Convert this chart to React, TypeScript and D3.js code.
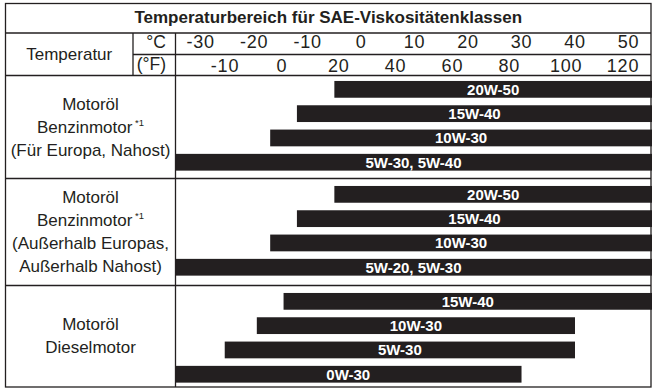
import React from "react";
import * as d3 from "d3";

// ---- Data ----
const TITLE = "Temperaturbereich für SAE-Viskositätenklassen";
const CELSIUS_TICKS = [-30, -20, -10, 0, 10, 20, 30, 40, 50];
const FAHRENHEIT_TICKS = ["-10", "0", "20", "40", "60", "80", "100", "120"];

const SEC1_LABEL = ["Motoröl", "Benzinmotor|*1", "(Für Europa, Nahost)"];
const SEC1_GRADES = ["20W-50", "15W-40", "10W-30", "5W-30, 5W-40"];
const SEC1_MIN = [-5, -12, -17, -35];
const SEC1_MAX = [55, 55, 55, 55];

const SEC2_LABEL = ["Motoröl", "Benzinmotor|*1", "(Außerhalb Europas,", "Außerhalb Nahost)"];
const SEC2_GRADES = ["20W-50", "15W-40", "10W-30", "5W-20, 5W-30"];
const SEC2_MIN = [-5, -12, -17, -35];
const SEC2_MAX = [55, 55, 55, 55];

const SEC3_LABEL = ["Motoröl", "Dieselmotor"];
const SEC3_GRADES = ["15W-40", "10W-30", "5W-30", "0W-30"];
const SEC3_MIN = [-14.5, -19.5, -25.5, -35];
const SEC3_MAX = [55, 40, 40, 30];

// ---- Layout ----
const W = 659;
const H = 392;
const INK = "#231f20";
const FONT = "'Liberation Sans', Arial, Helvetica, sans-serif";
const L = 5.5;
const R = 651;
const TOP = 3.5;
const TITLE_BOTTOM = 33;
const C_ROW_BOTTOM = 54.5;
const HEADER_BOTTOM = 75.5;
const COL1 = 133;
const COL2 = 175.5;
const SECTION_BOTTOMS = [178.5, 285.5, 387];
const BAND_OFFSETS = [1.7, 3.7, 3.7];
const BAND_SPAN = 97.2;
const LINE_H = 23;

const sections = [
  { label: SEC1_LABEL, grades: SEC1_GRADES, min: SEC1_MIN, max: SEC1_MAX },
  { label: SEC2_LABEL, grades: SEC2_GRADES, min: SEC2_MIN, max: SEC2_MAX },
  { label: SEC3_LABEL, grades: SEC3_GRADES, min: SEC3_MIN, max: SEC3_MAX },
];

export default function App() {
  const x = d3.scaleLinear().domain([-34.8, 54.4]).range([175, 652]).clamp(true);
  const xF = d3.scalePoint<string>().domain(FAHRENHEIT_TICKS).range([225, 623]);

  const tops = [HEADER_BOTTOM, ...SECTION_BOTTOMS.slice(0, 2)];

  return (
    <svg
      width={W}
      height={H}
      style={{ position: "absolute", left: 0, top: 0, background: "#fff" }}
      fontFamily={FONT}
    >
      <rect x={0} y={0} width={W} height={H} fill="#fff" />
      {/* Title */}
      <text x={(L + R) / 2} y={23} textAnchor="middle" fontWeight="bold" fontSize={17} fill={INK}>
        {TITLE}
      </text>
      {/* Header */}
      <text x={(L + COL1) / 2} y={59.5} textAnchor="middle" fontSize={17} fill={INK}>
        Temperatur
      </text>
      <text x={166} y={48} textAnchor="end" fontSize={17.5} fill={INK}>
        °C
      </text>
      <text x={166} y={70} textAnchor="end" fontSize={17.5} fill={INK}>
        (°F)
      </text>
      {CELSIUS_TICKS.map((c) => (
        <text key={"c" + c} x={x(c)} y={48} textAnchor="middle" fontSize={18} letterSpacing={0.8} fill={INK}>
          {String(c)}
        </text>
      ))}
      {FAHRENHEIT_TICKS.map((f) => (
        <text key={"f" + f} x={xF(f)} y={71.5} textAnchor="middle" fontSize={18} letterSpacing={0.8} fill={INK}>
          {f}
        </text>
      ))}

      {/* Sections */}
      {sections.map((s, si) => {
        const top = tops[si];
        const bottom = SECTION_BOTTOMS[si];
        const y0 = top + BAND_OFFSETS[si];
        const y = d3
          .scaleBand<number>()
          .domain(d3.range(s.grades.length))
          .range([y0, y0 + BAND_SPAN])
          .paddingInner(0.31)
          .paddingOuter(0.155);
        const mid = (top + bottom) / 2;
        const first = mid - ((s.label.length - 1) * LINE_H) / 2 + 5.5;
        return (
          <g key={"s" + si}>
            {s.label.map((ln, li) => {
              const [main, sup] = ln.split("|");
              return (
                <text
                  key={li}
                  x={(L + COL2) / 2}
                  y={first + li * LINE_H}
                  textAnchor="middle"
                  fontSize={17}
                  fill={INK}
                >
                  {main}
                  {sup ? (
                    <tspan fontSize={9.5} dy={-7}>
                      {" " + sup}
                    </tspan>
                  ) : null}
                </text>
              );
            })}
            {s.grades.map((g, gi) => {
              const x0 = x(s.min[gi]);
              const x1 = x(s.max[gi]);
              const by = y(gi)!;
              const bh = y.bandwidth();
              return (
                <g key={g}>
                  <rect x={x0} y={by} width={x1 - x0} height={bh} fill={INK} />
                  <text
                    x={(x0 + x1) / 2}
                    y={by + bh / 2 + 5.3}
                    textAnchor="middle"
                    fontWeight="bold"
                    fontSize={15}
                    fill="#fff"
                  >
                    {g}
                  </text>
                </g>
              );
            })}
          </g>
        );
      })}

      {/* Grid lines */}
      <g stroke={INK} strokeWidth={1.3} fill="none">
        <rect x={L} y={TOP} width={R - L} height={SECTION_BOTTOMS[2] - TOP} />
        <line x1={L} x2={R} y1={TITLE_BOTTOM} y2={TITLE_BOTTOM} />
        <line x1={COL1} x2={R} y1={C_ROW_BOTTOM} y2={C_ROW_BOTTOM} />
        <line x1={L} x2={R} y1={HEADER_BOTTOM} y2={HEADER_BOTTOM} />
        {SECTION_BOTTOMS.slice(0, 2).map((yy) => (
          <line key={yy} x1={L} x2={R} y1={yy} y2={yy} />
        ))}
        <line x1={COL1} x2={COL1} y1={TITLE_BOTTOM} y2={HEADER_BOTTOM} />
        <line x1={COL2} x2={COL2} y1={TITLE_BOTTOM} y2={SECTION_BOTTOMS[2]} />
      </g>
    </svg>
  );
}
